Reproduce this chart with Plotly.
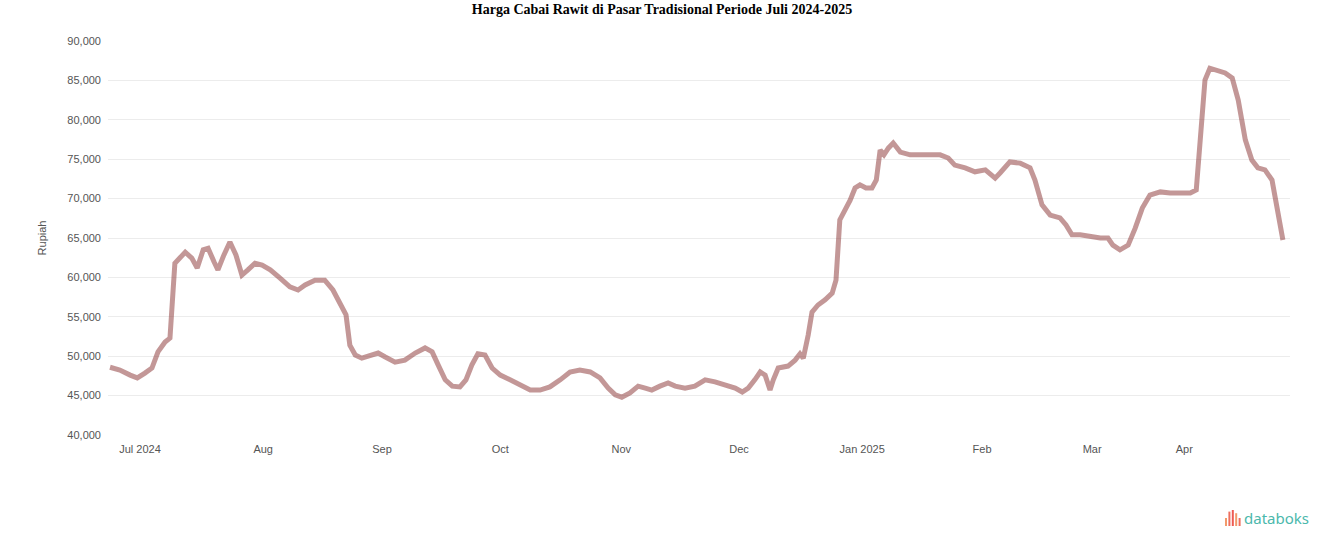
import plotly.graph_objects as go

# trading-day index (weekdays with market data) from early July 2024
day = [0, 1.8, 3.7, 5.0, 6.4, 7.7, 8.8, 10.1, 11.0, 11.9, 12.8, 13.8, 15.0, 16.0, 17.1, 18.0,
       19.1, 19.8, 20.9, 22.0, 23.1, 24.2, 25.3, 26.6, 27.9, 29.4, 31.2, 33.0, 34.5, 35.8,
       37.6, 39.4, 40.9, 42.2, 43.3, 44.0, 45.0, 46.2, 47.7, 49.2, 50.5, 52.3, 54.1, 56.0,
       57.8, 59.1, 60.2, 61.5, 62.8, 64.2, 65.3, 66.4, 67.5, 68.8, 70.1, 71.6, 73.4, 75.2,
       77.1, 78.9, 80.7, 82.6, 84.4, 86.2, 88.1, 89.9, 91.4, 92.7, 93.9, 95.4, 96.9, 98.2,
       99.4, 100.9, 102.4, 103.7, 105.5, 107.3, 109.2, 111.0, 112.8, 114.7, 116.0, 117.1,
       118.3, 119.3, 120.2, 121.1, 121.7, 122.6, 124.4, 125.7, 126.6, 127.2, 128.1, 128.8,
       129.9, 131.2, 132.5, 133.2, 133.9, 134.9, 135.8, 136.7, 137.6, 138.7, 139.8, 140.6,
       141.3, 142.0, 142.8, 143.7, 145.0, 146.8, 148.6, 150.5, 152.3, 153.8, 155.0, 156.9,
       158.7, 160.6, 162.4, 163.3, 165.1, 167.0, 168.8, 169.7, 171.0, 172.5, 174.3, 175.4,
       176.5, 178.0, 179.8, 181.7, 183.1, 184.0, 185.3, 186.8, 188.1, 189.4, 190.8, 192.7,
       194.5, 196.3, 198.2, 199.3, 200.0, 200.9, 201.8, 203.3, 204.6, 205.9, 207.0, 208.3,
       209.5, 210.6, 211.9, 213.2, 214.1, 215.2]

price = [48600, 48250, 47600, 47250, 47850, 48500, 50550, 51800, 52300, 61800, 62450, 63200,
         62450, 61200, 63500, 63700, 61950, 60950, 62850, 64500, 62850, 60300, 60950, 61800,
         61550, 60950, 59900, 58800, 58400, 59050, 59650, 59650, 58400, 56750, 55250, 51400,
         50150, 49750, 50050, 50400, 49900, 49250, 49500, 50400, 51050, 50550, 48900, 47000,
         46200, 46100, 47000, 48900, 50300, 50150, 48500, 47600, 47000, 46350, 45700, 45700,
         46100, 47000, 48000, 48250, 48000, 47250, 45950, 45100, 44800, 45350, 46200, 45950,
         45700, 46200, 46600, 46200, 45950, 46200, 47000, 46750, 46350, 45950, 45450, 45950,
         47000, 48000, 47600, 45700, 47000, 48500, 48750, 49500, 50300, 49750, 52700, 55600,
         56500, 57150, 58000, 59650, 67300, 68550, 69800, 71350, 71750, 71350, 71350, 72350,
         76150, 75550, 76400, 77050, 75900, 75550, 75550, 75400, 75550, 75150, 74250, 73900,
         73400, 73650, 72600, 73250, 74650, 74500, 73900, 72350, 69200, 67900, 67550, 66650,
         65400, 65400, 65150, 65000, 65000, 64100, 63500, 64100, 66250, 68800, 70450, 70850,
         70700, 70700, 70700, 71100, 77450, 85050, 86550, 86300, 85950, 85300, 82500, 77450,
         74900, 73900, 73650, 72350, 68550, 64750]

tick_pos = [5.5, 28.1, 49.9, 71.6, 93.8, 115.4, 138.0, 160.0, 180.2, 197.1]
tick_text = ["Jul 2024", "Aug", "Sep", "Oct", "Nov", "Dec", "Jan 2025", "Feb", "Mar", "Apr"]

y_ticks = [40000, 45000, 50000, 55000, 60000, 65000, 70000, 75000, 80000, 85000, 90000]
y_text = [f"{v:,}" for v in y_ticks]

W, H = 1324, 547
L, R, T, B = 108, 34, 41, 112
PW, PH = W - L - R, H - T - B

fig = go.Figure()
fig.add_trace(go.Scatter(
    x=day, y=price, mode="lines",
    line=dict(color="rgba(145,65,65,0.55)", width=5),
    hoverinfo="y", showlegend=False,
))

fig.update_layout(
    width=W, height=H,
    margin=dict(l=L, r=R, t=T, b=B),
    paper_bgcolor="white", plot_bgcolor="white",
    title=dict(text="<b>Harga Cabai Rawit di Pasar Tradisional Periode Juli 2024-2025</b>",
               x=0.5, xanchor="center", yref="container", y=1 - 9 / H, yanchor="middle",
               font=dict(family="Liberation Serif", size=14, color="black")),
    xaxis=dict(range=[-0.37, 216.5], tickmode="array", tickvals=tick_pos, ticktext=tick_text,
               showgrid=False, zeroline=False, showline=False, ticks="",
               ticklabelstandoff=6,
               tickfont=dict(family="Liberation Sans", size=11, color="#555")),
    yaxis=dict(range=[40000, 90000], tickmode="array", tickvals=y_ticks, ticktext=y_text,
               showgrid=True, gridcolor="#ececec", gridwidth=1, zeroline=False,
               showline=False, ticks="", ticklabelstandoff=6,
               tickfont=dict(family="Liberation Sans", size=11, color="#555"),
               title=dict(text="Rupiah", standoff=18,
                          font=dict(family="Liberation Sans", size=11, color="#555"))),
)

# databoks logo
fig.add_annotation(text="databoks", xref="paper", yref="paper",
                   x=(1242 - L) / PW, y=(435 - 518) / PH,
                   xanchor="left", yanchor="middle", showarrow=False,
                   font=dict(family="Noto Sans", size=15, color="#4bb8ac"))
bar_cols = ["#f29a6b", "#ef6f5e", "#ee5a52", "#f29a6b", "#ef6f5e"]
bar_h = [0.5, 0.9, 1.0, 0.8, 0.5]
for i, (c, h) in enumerate(zip(bar_cols, bar_h)):
    x0 = 1225 + i * 3.4
    fig.add_shape(type="rect", xref="paper", yref="paper",
                  x0=(x0 - L) / PW, x1=(x0 + 2 - L) / PW,
                  y0=(435 - 526) / PH, y1=(435 - 526 + 16 * h) / PH,
                  fillcolor=c, line=dict(width=0))

fig.write_html("out.html", config={"displayModeBar": False},
               post_script="document.body.style.margin='0';")
